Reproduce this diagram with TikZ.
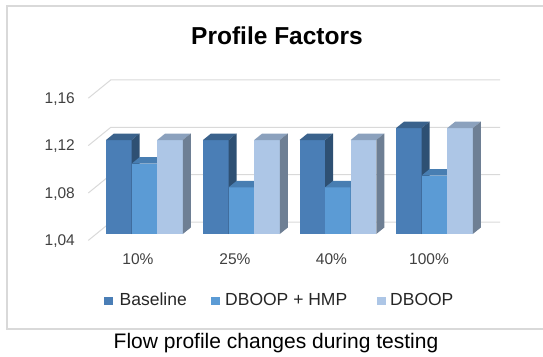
\documentclass[tikz,border=0pt]{standalone}
\usepackage{fontspec}
\setmainfont{Liberation Sans}
\definecolor{gridc}{HTML}{D9D9D9}
\definecolor{boxc}{HTML}{D9D9D9}
\definecolor{bfront}{RGB}{74,126,182}
\definecolor{btop}{RGB}{58,98,140}
\definecolor{bside}{RGB}{46,80,115}
\definecolor{hfront}{RGB}{91,155,213}
\definecolor{htop}{RGB}{72,126,178}
\definecolor{hside}{RGB}{60,104,148}
\definecolor{dfront}{RGB}{173,198,230}
\definecolor{dtop}{RGB}{139,161,189}
\definecolor{dside}{RGB}{110,127,148}
\definecolor{axtext}{HTML}{404040}
\newcommand{\drawbar}[5]{%
  \pgfmathsetmacro{\yt}{140-(#2-1.12)*1185}%
  \fill[#3] (#1,234) rectangle (#1+25.6,\yt);
  \fill[#4] (#1,\yt) -- ++(8,-6.5) -- ++(25.6,0) -- ++(-8,6.5) -- cycle;
  \fill[#5] (#1+25.6,\yt) -- ++(8,-6.5) -- (#1+33.6,227.5) -- (#1+25.6,234) -- cycle;
}
\tikzset{
  axlabel/.style={text=axtext,font=\fontsize{15.5}{18}\selectfont,inner sep=0pt},
  catlabel/.style={text=axtext,font=\fontsize{15.5}{18}\selectfont,inner sep=0pt},
  legtext/.style={text=black!85,font=\fontsize{17.5}{20}\selectfont,inner sep=0pt,anchor=west},
  legbox/.style={minimum width=9pt,minimum height=8.5pt,inner sep=0pt,draw=none},
  grid line/.style={draw=gridc,line width=1pt}
}
\begin{document}
\begin{tikzpicture}[x=1pt,y=-1pt]
\useasboundingbox (0,0) rectangle (543,356);
\clip (0,0) rectangle (543,356);
\draw[boxc,line width=2pt] (7,6) rectangle (570,329);
% title
\node[font=\bfseries\fontsize{24.5}{28}\selectfont,inner sep=0pt] (title) at (277,36) {Profile Factors};
% grid
\foreach \v/\lab/\nm in {1.16/{1,16}/a,1.12/{1,12}/b,1.08/{1,08}/c,1.04/{1,04}/d}{
  \pgfmathsetmacro{\yb}{127.3-(\v-1.12)*1185}
  \coordinate (gb\nm) at (110.8,\yb);
  \coordinate (gf\nm) at (88.3,\yb+18.3);
  \coordinate (ge\nm) at (500,\yb);
  \draw[grid line] (gf\nm) -- (gb\nm) -- (ge\nm);
  \node[axlabel,anchor=east] (yl\nm) at (75,\yb+19) {\lab};
}
% bars
\foreach \x/\bv/\hv/\dv in {106/1.12/1.10/1.12, 203/1.12/1.08/1.12, 299.5/1.12/1.08/1.12, 396/1.13/1.09/1.13}{
  \drawbar{\x}{\bv}{bfront}{btop}{bside}
  \drawbar{\x+25.6}{\hv}{hfront}{htop}{hside}
  \drawbar{\x+51.2}{\dv}{dfront}{dtop}{dside}
}
% categories
\node[catlabel] (c1) at (138,259) {10\%};
\node[catlabel] (c2) at (235,259) {25\%};
\node[catlabel] (c3) at (331.5,259) {40\%};
\node[catlabel] (c4) at (429,259) {100\%};
% legend
\node[legbox,fill=bfront] (l1) at (108.5,301) {};
\node[legtext] (t1) at (119.5,299.5) {Baseline};
\node[legbox,fill=hfront] (l2) at (215,301) {};
\node[legtext] (t2) at (225,299.5) {DBOOP + HMP};
\node[legbox,fill=dfront] (l3) at (381,301) {};
\node[legtext] (t3) at (390,299.5) {DBOOP};
% caption
\node[font=\fontsize{21}{24}\selectfont,inner sep=0pt] (cap) at (276,343) {Flow profile changes during testing};
\end{tikzpicture}
\end{document}
